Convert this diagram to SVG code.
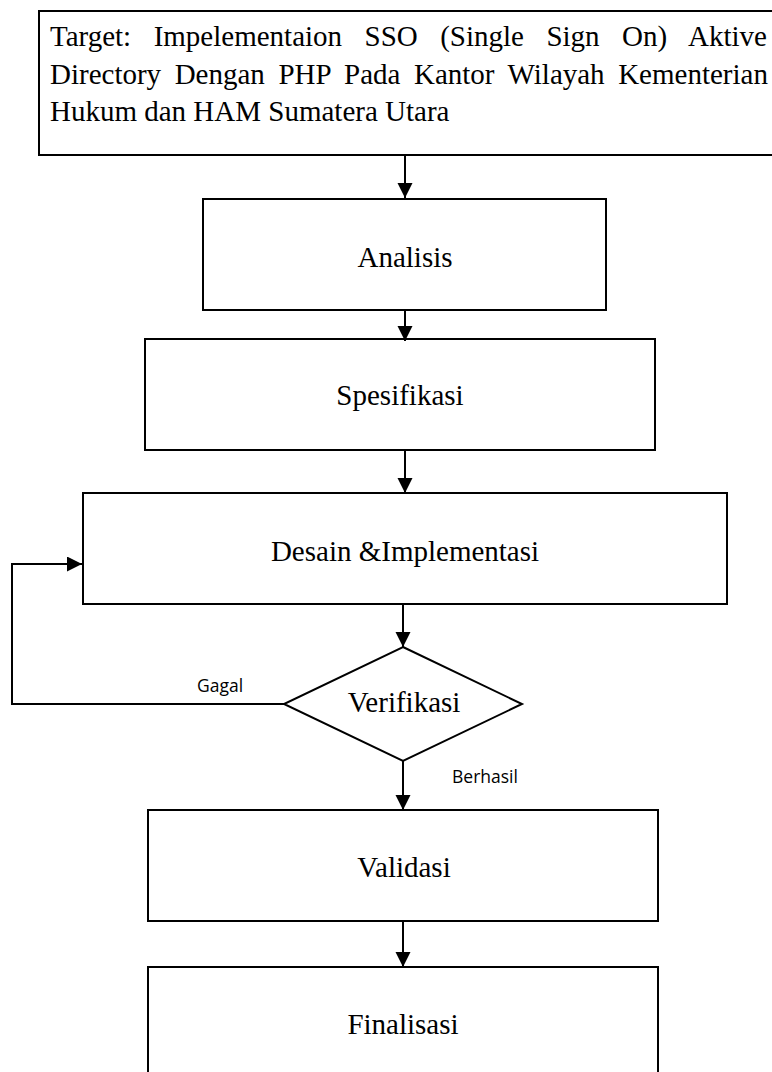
<svg xmlns="http://www.w3.org/2000/svg" width="772" height="1072" viewBox="0 0 772 1072">
<style>
.box{fill:#fff;stroke:#000;stroke-width:2}
.t{font-family:"Liberation Serif","Times New Roman",serif;font-size:29px;fill:#000}
.c{text-anchor:middle}
.lbl{font-family:"Open Sans","Liberation Sans",sans-serif;font-size:17.5px;fill:#000}
.ln{fill:none;stroke:#000;stroke-width:2}
</style>
<defs>
<marker id="ah" markerUnits="userSpaceOnUse" markerWidth="16" markerHeight="16" refX="15" refY="7.5" orient="auto">
<path d="M0,0 L15,7.5 L0,15 Z" fill="#000"/>
</marker>
</defs>
<rect width="772" height="1072" fill="#fff"/>
<g id="target">
<rect class="box" x="39" y="11" width="760" height="144"/>
<text class="t" x="50" y="46" word-spacing="15.2">Target: Impelementaion SSO (Single Sign On) Aktive</text>
<text class="t" x="50" y="84" word-spacing="6.3">Directory Dengan PHP Pada Kantor Wilayah Kementerian</text>
<text class="t" x="50" y="121">Hukum dan HAM Sumatera Utara</text>
</g>
<g id="analisis">
<rect class="box" x="203" y="199" width="403" height="111"/>
<text class="t c" x="405" y="267">Analisis</text>
</g>
<g id="spesifikasi">
<rect class="box" x="145" y="339" width="510" height="111"/>
<text class="t c" x="400" y="405">Spesifikasi</text>
</g>
<g id="desain">
<rect class="box" x="83" y="493" width="644" height="111"/>
<text class="t c" x="405" y="561">Desain &amp;Implementasi</text>
</g>
<g id="verifikasi">
<polygon class="box" points="403,647 522,704 403,761 284,704"/>
<text class="t c" x="404" y="712">Verifikasi</text>
</g>
<g id="validasi">
<rect class="box" x="148" y="810" width="510" height="111"/>
<text class="t c" x="404" y="877">Validasi</text>
</g>
<g id="finalisasi">
<rect class="box" x="148" y="967" width="510" height="120"/>
<text class="t c" x="403" y="1034">Finalisasi</text>
</g>
<g id="connectors">
<line class="ln" x1="405" y1="155" x2="405" y2="198" marker-end="url(#ah)"/>
<line class="ln" x1="405" y1="310" x2="405" y2="341" marker-end="url(#ah)"/>
<line class="ln" x1="405" y1="450" x2="405" y2="493" marker-end="url(#ah)"/>
<line class="ln" x1="403" y1="604" x2="403" y2="647" marker-end="url(#ah)"/>
<polyline class="ln" points="284,704 12,704 12,564 82,564" marker-end="url(#ah)"/>
<line class="ln" x1="403" y1="761" x2="403" y2="810" marker-end="url(#ah)"/>
<line class="ln" x1="403" y1="921" x2="403" y2="967" marker-end="url(#ah)"/>
<text class="lbl" x="220" y="692" text-anchor="middle">Gagal</text>
<text class="lbl" x="452" y="783">Berhasil</text>
</g>
</svg>
